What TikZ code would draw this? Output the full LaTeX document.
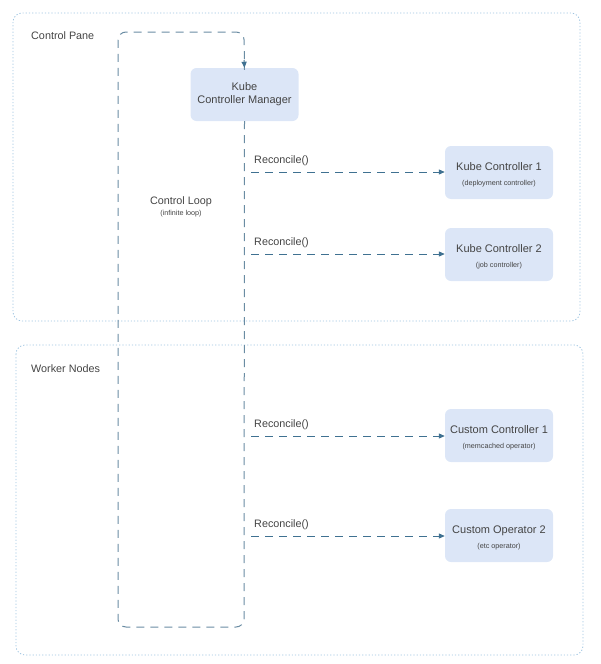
\documentclass[tikz,border=0pt]{standalone}
\usepackage{fontspec}
\setmainfont{Liberation Sans}
\usetikzlibrary{arrows.meta}
\definecolor{zoneline}{HTML}{9CC3E0}
\definecolor{boxfill}{HTML}{DCE6F7}
\definecolor{loopline}{HTML}{6A8CA3}
\definecolor{arrline}{HTML}{3F7191}
\definecolor{txt}{HTML}{444444}
\newcommand{\subtxt}{\fontsize{7.2}{8}\selectfont}
\newcommand{\topstrut}{\rule{0pt}{13pt}}
\tikzset{
  zone/.style={draw=zoneline, line width=0.8pt, dash pattern=on 1.2pt off 2pt, rounded corners=9pt},
  ctrl/.style={fill=boxfill, rounded corners=6pt, minimum width=108pt, minimum height=53pt, align=center, text=txt, font=\fontsize{11}{13}\selectfont, inner sep=0pt},
  lbl/.style={text=txt, font=\fontsize{10.8}{12}\selectfont, inner sep=0pt},
  loopstyle/.style={draw=loopline, line width=1pt, dash pattern=on 8pt off 6pt, rounded corners=8pt},
  recon/.style={draw=arrline, line width=1pt, dash pattern=on 8pt off 6pt, -{Triangle[length=6pt,width=5pt]}}
}
\begin{document}
\begin{tikzpicture}[x=1pt,y=-1pt]
\useasboundingbox (0,0) rectangle (600,664);
% zones
\draw[zone] (13,13) rectangle (580,321);
\draw[zone] (16,345) rectangle (583,655);
\node[lbl, anchor=west] (cp) at (31,36) {Control Pane};
\node[lbl, anchor=west] (wn) at (31,369) {Worker Nodes};
% manager
\node[ctrl] (kcm) at (244.5,94.5) {Kube\\Controller Manager};
% controllers
\node[ctrl] (kc1) at (499,172.5) {\topstrut Kube Controller 1\\[2pt]{\subtxt (deployment controller)}};
\node[ctrl] (kc2) at (499,254.5) {\topstrut Kube Controller 2\\[2pt]{\subtxt (job controller)}};
\node[ctrl] (cc1) at (499,435.5) {\topstrut Custom Controller 1\\[2pt]{\subtxt (memcached operator)}};
\node[ctrl] (co2) at (499,535.5) {\topstrut Custom Operator 2\\[2pt]{\subtxt (etc operator)}};
% control loop label
\node[text=txt, align=center, inner sep=0pt, font=\fontsize{10.8}{11}\selectfont] (cl) at (181,206.5) {Control Loop\\{\subtxt (infinite loop)}};
% loop path
\coordinate (ltop) at (118,32);
\coordinate (lbot) at (118,627);
\coordinate (rbot) at (244,627);
\draw[loopstyle] (kcm.south) -- (rbot) -- (lbot) -- (ltop) -- (244,32) -- ([yshift=-2pt]kcm.north);
\draw[draw=arrline, line width=1pt, -{Triangle[length=6pt,width=5pt]}] (244,60) -- (kcm.north);
% reconcile arrows
\coordinate (s1) at (251,172);
\coordinate (s2) at (251,254);
\coordinate (s3) at (251,436);
\coordinate (s4) at (251,536);
\draw[recon] (s1) -- (s1 -| kc1.west);
\draw[recon] (s2) -- (s2 -| kc2.west);
\draw[recon] (s3) -- (s3 -| cc1.west);
\draw[recon] (s4) -- (s4 -| co2.west);
\node[lbl, anchor=west] (r1) at (254,160.5) {Reconcile()};
\node[lbl, anchor=west] (r2) at (254,242.5) {Reconcile()};
\node[lbl, anchor=west] (r3) at (254,424.5) {Reconcile()};
\node[lbl, anchor=west] (r4) at (254,524.5) {Reconcile()};
\end{tikzpicture}
\end{document}
